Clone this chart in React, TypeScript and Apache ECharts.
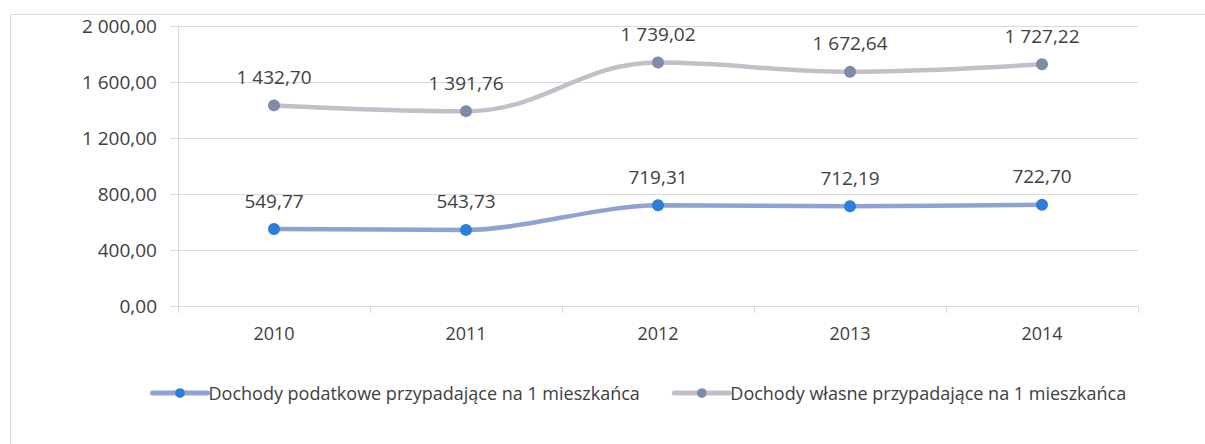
import React, { useEffect, useRef } from "react";
import * as echarts from "echarts";

const categories = ["2010", "2011", "2012", "2013", "2014"];
const taxIncome = [549.77, 543.73, 719.31, 712.19, 722.7];
const ownIncome = [1432.7, 1391.76, 1739.02, 1672.64, 1727.22];
const seriesNames = [
  "Dochody podatkowe przypadające na 1 mieszkańca",
  "Dochody własne przypadające na 1 mieszkańca",
];

const FONT = "'Open Sans', 'Noto Sans', sans-serif";
const TEXT = "#404040";

function fmt(v: number): string {
  const [i, d] = v.toFixed(2).split(".");
  const withSp = i.replace(/\B(?=(\d{3})+(?!\d))/g, " ");
  return withSp + "," + d;
}

export default function App() {
  const ref = useRef<HTMLDivElement>(null);
  useEffect(() => {
    if (!ref.current) return;
    const chart = echarts.init(ref.current, undefined, { renderer: "svg" });
    const labelStyle = {
      show: true,
      position: "top" as const,
      distance: 13,
      color: TEXT,
      fontFamily: FONT,
      fontSize: 19,
      formatter: (p: any) => fmt(p.value),
    };
    chart.setOption({
      animation: false,
      backgroundColor: "#ffffff",
      textStyle: { fontFamily: FONT },
      graphic: [
        {
          type: "rect",
          shape: { x: 10.5, y: 14.5, width: 1300, height: 600 },
          style: { fill: "none", stroke: "#d9d9d9", lineWidth: 1 },
          silent: true,
          z: -10,
        },
      ],
      grid: { left: 178, right: 67, top: 26, bottom: 138, containLabel: false },
      legend: {
        show: true,
        top: 379,
        left: 145,
        itemWidth: 55,
        itemHeight: 12,
        itemGap: 32,
        lineStyle: { width: 5, cap: "round" },
        textStyle: { color: TEXT, fontFamily: FONT, fontSize: 18, padding: [0, 0, 0, -4] },
        data: seriesNames,
      },
      xAxis: {
        type: "category",
        data: categories,
        boundaryGap: true,
        axisLine: { show: true, lineStyle: { color: "#d9d9d9", width: 1 } },
        axisTick: { show: true, length: 7, lineStyle: { color: "#d9d9d9" } },
        axisLabel: { color: TEXT, fontFamily: FONT, fontSize: 18, margin: 18 },
        splitLine: { show: false },
      },
      yAxis: {
        type: "value",
        min: 0,
        max: 2000,
        interval: 400,
        axisLine: { show: true, lineStyle: { color: "#d9d9d9", width: 1 } },
        axisTick: { show: true, length: 8, lineStyle: { color: "#d9d9d9" } },
        axisLabel: {
          color: TEXT,
          fontFamily: FONT,
          fontSize: 19,
          margin: 21,
          formatter: (v: number) => fmt(v),
        },
        splitLine: { show: true, lineStyle: { color: "#d9d9d9", width: 1 } },
      },
      series: [
        {
          name: seriesNames[0],
          type: "line",
          data: taxIncome,
          smooth: 0.3,
          symbol: "circle",
          symbolSize: 12,
          lineStyle: { color: "#8fa2d2", width: 4.5, cap: "round" },
          itemStyle: { color: "#2e7dd8" },
          label: labelStyle,
        },
        {
          name: seriesNames[1],
          type: "line",
          data: ownIncome,
          smooth: 0.4,
          symbol: "circle",
          symbolSize: 12,
          lineStyle: { color: "#c5bdc8", width: 4.5, cap: "round" },
          itemStyle: { color: "#7f8ca8" },
          label: labelStyle,
        },
      ],
    });
    return () => chart.dispose();
  }, []);
  return (
    <div
      ref={ref}
      style={{ position: "absolute", left: 0, top: 0, width: 1205, height: 444 }}
    />
  );
}
